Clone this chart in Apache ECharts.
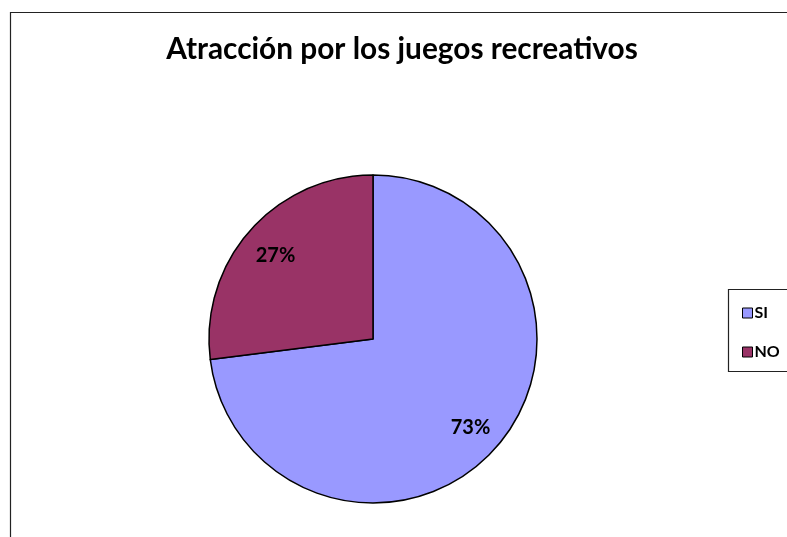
<!DOCTYPE html>
<html>
<head>
<meta charset="utf-8">
<script src="https://cdn.jsdelivr.net/npm/echarts@6/dist/echarts.min.js"></script>
<style>
  html, body { margin: 0; padding: 0; background: #fff; }
  #chart { width: 787px; height: 537px; }
</style>
</head>
<body>
<div id="chart"></div>
<script>
// Survey answers: share of respondents attracted to recreational games
const categories = ['SI', 'NO'];
const values = [73, 27];
const colors = ['#9999FF', '#993366'];
const titleText = 'Atracción por los juegos recreativos';

const pieData = categories.map((name, i) => ({
  name: name,
  value: values[i],
  itemStyle: { color: colors[i] }
}));

const center = [373, 339];
const radius = 164;
const font = 'Lato, "Open Sans", sans-serif';

const chart = echarts.init(document.getElementById('chart'), null, { renderer: 'canvas' });
chart.setOption({
  animation: false,
  backgroundColor: '#fff',
  title: {
    text: titleText,
    left: 397,
    textAlign: 'center',
    top: 29,
    textStyle: { fontFamily: font, fontWeight: 'bold', fontSize: 29.8, color: '#000' }
  },
  graphic: [
    { type: 'rect', shape: { x: 10.5, y: 12.5, width: 900, height: 700 },
      style: { fill: null, stroke: '#222', lineWidth: 1.2 }, silent: true },
    { type: 'rect', shape: { x: 728.5, y: 289.5, width: 100, height: 82 },
      style: { fill: '#fff', stroke: '#222', lineWidth: 1.2 }, silent: true, z: 1 }
  ],
  legend: {
    orient: 'vertical',
    left: 737,
    top: 300,
    itemWidth: 10,
    itemHeight: 10,
    itemGap: 23,
    icon: 'rect',
    z: 5,
    itemStyle: { borderColor: '#000', borderWidth: 1 },
    textStyle: { fontFamily: font, fontWeight: 'bold', fontSize: 16, color: '#000', padding: [0, 0, 0, -3] },
    data: categories
  },
  series: [
    {
      type: 'pie',
      center: center,
      radius: [0, radius],
      startAngle: 90,
      clockwise: true,
      silent: true,
      itemStyle: { borderColor: '#000', borderWidth: 1.5 },
      label: { show: false },
      labelLine: { show: false },
      data: pieData
    },
    {
      // overlay ring used only to place the percentage labels further out
      type: 'pie',
      center: center,
      radius: [90, radius],
      startAngle: 90,
      clockwise: true,
      silent: true,
      legendHoverLink: false,
      itemStyle: { color: 'rgba(0,0,0,0)', borderWidth: 0 },
      label: {
        show: true,
        position: 'inside',
        offset: [0, 3],
        formatter: p => p.value + '%',
        fontFamily: font,
        fontWeight: 'bold',
        fontSize: 20,
        color: '#000'
      },
      labelLine: { show: false },
      data: categories.map((name, i) => ({ name: name + ' ', value: values[i] }))
    }
  ]
});
</script>
</body>
</html>
